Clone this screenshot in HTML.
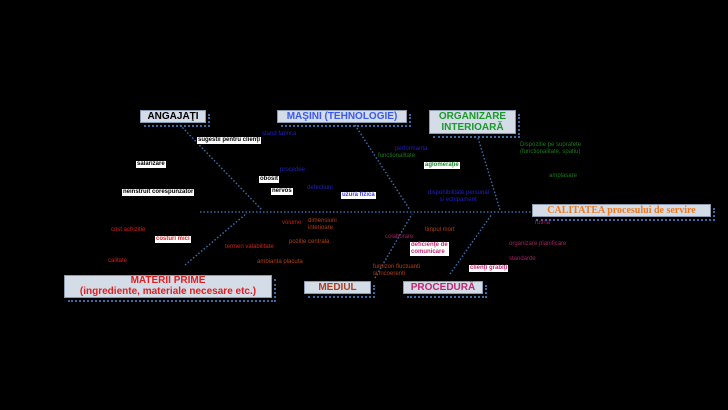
<!DOCTYPE html>
<html><head><meta charset="utf-8"><style>
body{margin:0;width:728px;height:410px;background:#000;overflow:hidden;position:relative;font-family:"Liberation Sans",sans-serif}
.b{position:absolute;background:#d4dce8;border:1px solid #8a9ab0;font-weight:bold;text-align:center}
.b::after{content:"";position:absolute;left:3px;top:3px;right:-5px;bottom:-5px;border-right:2px dotted #3a6aa8;border-bottom:2px dotted #3a6aa8;z-index:-1}
.t{position:absolute;font-size:6px;white-space:nowrap;line-height:7px}
.w{background:#fff;color:#000;padding:0 1px;font-weight:bold}
</style></head><body>
<svg width="728" height="410" style="position:absolute;left:0;top:0">
<g stroke="#3a6aa8" stroke-width="1.5" stroke-dasharray="1.5,2" fill="none">
<line x1="200" y1="212" x2="532" y2="212"/>
<line x1="180" y1="125" x2="262" y2="210"/>
<line x1="355" y1="125" x2="410" y2="210"/>
<line x1="478" y1="138" x2="500" y2="210"/>
<line x1="185" y1="265" x2="247" y2="213"/>
<line x1="375" y1="278" x2="412" y2="214"/>
<line x1="450" y1="274" x2="492" y2="214"/>
</g></svg>
<div class="b" style="left:140px;top:110px;width:64px;height:11px;font-size:10px;line-height:11px;color:#000">ANGAJAŢI</div>
<div class="b" style="left:277px;top:110px;width:128px;height:11px;font-size:10px;line-height:11px;color:#3a5af0">MAŞINI (TEHNOLOGIE)</div>
<div class="b" style="left:429px;top:110px;width:85px;height:22px;font-size:10px;line-height:11px;color:#1a9a2a">ORGANIZARE<br>INTERIOARĂ</div>
<div class="b" style="left:532px;top:204px;width:177px;height:11px;font-size:10px;line-height:11px;color:#f07a20;font-family:'Liberation Serif',serif">CALITATEA procesului de servire</div>
<div class="b" style="left:64px;top:275px;width:206px;height:21px;font-size:10px;line-height:10.5px;color:#e02020">MATERII PRIME<br>(ingrediente, materiale necesare etc.)</div>
<div class="b" style="left:304px;top:281px;width:65px;height:11px;font-size:10px;line-height:11px;color:#b04020">MEDIUL</div>
<div class="b" style="left:403px;top:281px;width:78px;height:11px;font-size:10px;line-height:11px;color:#c02a70">PROCEDURĂ</div>

<div class="t w" style="left:197px;top:137px">sugestii pentru clienţi</div>
<div class="t w" style="left:136px;top:161px">salarizare</div>
<div class="t w" style="left:259px;top:176px">obosit</div>
<div class="t w" style="left:122px;top:189px">neinstruit corespunzător</div>
<div class="t w" style="left:271px;top:188px">nervos</div>
<div class="t w" style="left:341px;top:192px;color:#3a3af0">uzură fizică</div>
<div class="t w" style="left:424px;top:162px;color:#1a8a2a">aglomeraţie</div>
<div class="t w" style="left:155px;top:236px;color:#e02020">costuri mici</div>
<div class="t w" style="left:410px;top:242px;color:#c02a70">deficienţe de<br>comunicare</div>
<div class="t w" style="left:469px;top:265px;color:#c02a70">clienţi grăbiţi</div>

<div class="t" style="left:262px;top:131px;color:#2020c0">stand fabrica</div>
<div class="t" style="left:280px;top:167px;color:#2020c0">procedee</div>
<div class="t" style="left:307px;top:185px;color:#2020c0">defectiuni</div>
<div class="t" style="left:395px;top:146px;color:#2020c0">performanta</div>
<div class="t" style="left:378px;top:153px;color:#1a7a1a">functionalitate</div>
<div class="t" style="left:428px;top:190px;color:#2020c0">disponibilitate personal<br>&nbsp;&nbsp;&nbsp;&nbsp;&nbsp;&nbsp;&nbsp;si echipament</div>
<div class="t" style="left:520px;top:142px;color:#1a7a1a">Dispozitie pe suprafete<br>(functionalitate, spatiu)</div>
<div class="t" style="left:549px;top:173px;color:#1a7a1a">amplasare</div>
<div class="t" style="left:535px;top:220px;color:#a02060">rutina</div>
<div class="t" style="left:509px;top:241px;color:#a02060">organizare planificare</div>
<div class="t" style="left:509px;top:256px;color:#a02060">standarde</div>
<div class="t" style="left:111px;top:227px;color:#d02020">cost achizitie</div>
<div class="t" style="left:108px;top:258px;color:#d02020">calitate</div>
<div class="t" style="left:225px;top:244px;color:#d02020">termen valabilitate</div>
<div class="t" style="left:282px;top:220px;color:#c02010">volume</div>
<div class="t" style="left:308px;top:218px;color:#b04010">dimensiuni<br>interioare</div>
<div class="t" style="left:289px;top:239px;color:#b04010">pozitie centrala</div>
<div class="t" style="left:257px;top:259px;color:#b04010">ambianta placuta</div>
<div class="t" style="left:385px;top:234px;color:#a02060">colaborare</div>
<div class="t" style="left:425px;top:227px;color:#b04010">timpul mort</div>
<div class="t" style="left:373px;top:264px;color:#b04010">furnizori fluctuanti<br>si incoerenti</div>
</body></html>
